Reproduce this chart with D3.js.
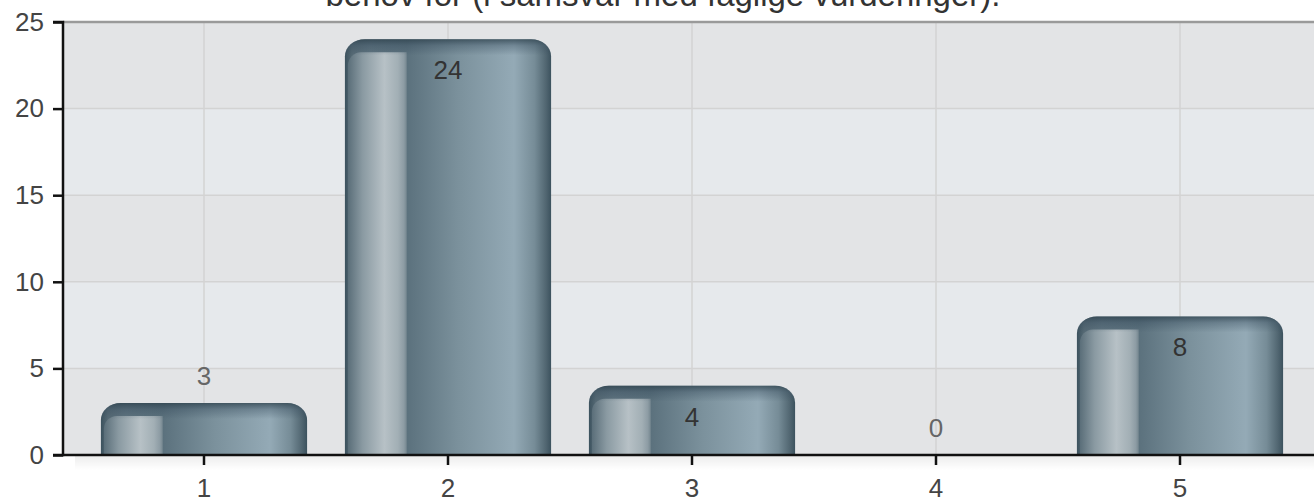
<!DOCTYPE html>
<html><head><meta charset="utf-8">
<script src="https://cdn.jsdelivr.net/npm/d3@7"></script>
<style>
html,body{margin:0;padding:0;background:#fff;overflow:hidden}
text{font-family:"Liberation Sans",Arial,sans-serif}
</style></head>
<body><svg id="c" width="1314" height="502"></svg>
<script>
const categories = ["1","2","3","4","5"];
const values = [3,24,4,0,8];
const yTicks = [0,5,10,15,20,25];
const titleText = "behov for (i samsvar med faglige vurderinger).";

const W = 1314, H = 502;
const plotL = 63, plotT = 22, plotB = 455, plotR = 1321;
const svg = d3.select("#c");

const y = d3.scaleLinear().domain([0,25]).range([plotB, plotT]);
const x = d3.scaleBand().domain(categories).range([82, 1302]).paddingInner(0.155).paddingOuter(0.0775);

const defs = svg.append("defs");
function lin(id, stops, vertical) {
  const g = defs.append("linearGradient").attr("id", id)
    .attr("x1",0).attr("y1",0).attr("x2", vertical?0:1).attr("y2", vertical?1:0);
  stops.forEach(s => g.append("stop").attr("offset", s[0]).attr("stop-color", s[1]).attr("stop-opacity", s[2]==null?1:s[2]));
}
lin("base", [[0,"#3c525e"],[0.035,"#566a75"],[0.12,"#5f7480"],[0.3,"#5b717d"],[0.55,"#7b919c"],[0.82,"#94aab6"],[0.92,"#768c97"],[0.975,"#516671"],[1,"#3c525e"]]);
lin("hl", [[0,"#5a6e79"],[0.25,"#8a9aa2"],[0.62,"#b7c1c6"],[0.85,"#a2afb5"],[0.95,"#8d9ca4"],[1,"#74868f"]]);
lin("cap", [[0,"#2c404b",0.75],[0.4,"#34495a",0.35],[1,"#34495a",0]], true);
lin("shadow", [[0,"#000",0.07],[1,"#000",0]], true);

// plot background bands
for (let i = 0; i < yTicks.length - 1; i++) {
  svg.append("rect").attr("x", plotL).attr("width", plotR - plotL)
    .attr("y", y(yTicks[i+1])).attr("height", y(yTicks[i]) - y(yTicks[i+1]))
    .attr("fill", i % 2 === 0 ? "#e3e4e6" : "#e6e9ec");
}
// shadow under plot
svg.append("rect").attr("x", 75).attr("y", plotB + 1).attr("width", plotR - 75).attr("height", 14).attr("fill", "url(#shadow)");

// grid
svg.append("g").selectAll("line").data(yTicks.filter(t => t > 0 && t < 25)).join("line")
  .attr("x1", plotL).attr("x2", plotR).attr("y1", d => y(d)).attr("y2", d => y(d))
  .attr("stroke", "#d3d3d3").attr("stroke-width", 1.5);
svg.append("g").selectAll("line").data(categories).join("line")
  .attr("x1", d => x(d) + x.bandwidth()/2).attr("x2", d => x(d) + x.bandwidth()/2)
  .attr("y1", plotT).attr("y2", plotB)
  .attr("stroke", "#d3d3d3").attr("stroke-width", 1.5);
// top border
svg.append("line").attr("x1", plotL).attr("x2", plotR).attr("y1", plotT).attr("y2", plotT)
  .attr("stroke", "#9a9a9a").attr("stroke-width", 2.5);

// bars
const rx = 20, ry = 17;
function topRounded(x0, w, top, bottom, rxx, ryy) {
  return `M${x0},${bottom}V${top+ryy}A${rxx},${ryy} 0 0 1 ${x0+rxx},${top}H${x0+w-rxx}A${rxx},${ryy} 0 0 1 ${x0+w},${top+ryy}V${bottom}Z`;
}
const data = categories.map((c, i) => ({c, v: values[i]}));
const bars = svg.append("g");
data.filter(d => d.v > 0).forEach(d => {
  const x0 = x(d.c), w = x.bandwidth(), top = y(d.v), bottom = y(0);
  bars.append("path").attr("d", topRounded(x0, w, top, bottom, rx, ry)).attr("fill", "url(#base)");
  // highlight column
  const hx = x0 + 3, hw = w * 0.3 - 3, ht = top + 13;
  const hr = 13;
  bars.append("path")
    .attr("d", `M${hx},${bottom}V${ht+hr}A${hr},${hr} 0 0 1 ${hx+hr},${ht}H${hx+hw}V${bottom}Z`)
    .attr("fill", "url(#hl)");
  // top cap shading
  bars.append("path").attr("d", topRounded(x0, w, top, top + 16, rx, 16)).attr("fill", "url(#cap)");
});

// value labels
svg.append("g").selectAll("text").data(data).join("text")
  .attr("x", d => x(d.c) + x.bandwidth()/2)
  .attr("y", d => (y(0) - y(d.v)) > 60 ? y(d.v) + 40 : y(d.v) - 18)
  .attr("text-anchor", "middle").attr("font-size", 26)
  .attr("fill", d => (y(0) - y(d.v)) > 60 ? "#333" : "#666")
  .text(d => d.v);

// axes
const yAxis = svg.append("g").attr("transform", `translate(${plotL},0)`)
  .call(d3.axisLeft(y).tickValues(yTicks).tickSize(10).tickPadding(9));
const xAxis = svg.append("g").attr("transform", `translate(0,${plotB})`)
  .call(d3.axisBottom(x).tickSize(10).tickPadding(14));
[yAxis, xAxis].forEach(a => {
  a.select(".domain").attr("stroke", "#111").attr("stroke-width", 2.5);
  a.selectAll(".tick line").attr("stroke", "#111").attr("stroke-width", 2.5);
  a.selectAll(".tick text").attr("font-size", 26).attr("fill", "#444").attr("font-family", '"Liberation Sans",Arial,sans-serif');
});
yAxis.select(".domain").attr("d", `M-10,${plotT}H0V${plotB}H-10`);
xAxis.select(".domain").attr("d", `M${plotL},0H${plotR}`);

// title (cut off at top)
svg.append("text").attr("x", 663).attr("y", 6).attr("text-anchor", "middle")
  .attr("font-size", 33).attr("fill", "#333").text(titleText);
</script></body></html>
